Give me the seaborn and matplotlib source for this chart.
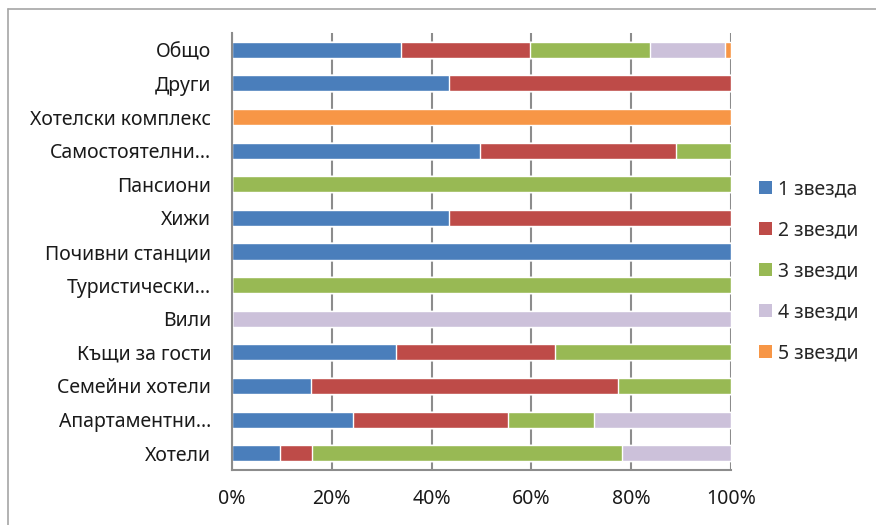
import numpy as np
import pandas as pd
import matplotlib
matplotlib.use("Agg")
import matplotlib.pyplot as plt
from matplotlib.patches import Patch
import seaborn as sns

categories = ["Общо", "Други", "Хотелски комплекс", "Самостоятелни...", "Пансиони",
              "Хижи", "Почивни станции", "Туристически...", "Вили", "Къщи за гости",
              "Семейни хотели", "Апартаментни...", "Хотели"]
series = ["1 звезда", "2 звезди", "3 звезди", "4 звезди", "5 звезди"]

# shares in percent, one list per star class, in category order
star1 = [33.8, 43.5, 0, 49.7, 0, 43.5, 100, 0, 0, 32.9, 15.8, 24.2, 9.6]
star2 = [26.0, 56.5, 0, 39.3, 0, 56.5, 0, 0, 0, 31.8, 61.5, 31.1, 6.4]
star3 = [23.9, 0, 0, 11.0, 100, 0, 0, 100, 0, 35.3, 22.7, 17.3, 62.1]
star4 = [15.0, 0, 0, 0, 0, 0, 0, 0, 100, 0, 0, 27.4, 21.9]
star5 = [1.3, 0, 100, 0, 0, 0, 0, 0, 0, 0, 0, 0, 0]

colors = ["#4a7ebb", "#be4b48", "#98b954", "#ccc1da", "#f79646"]

sns.set_style("white")
plt.rcParams["font.family"] = ["Noto Sans", "DejaVu Sans"]

df = pd.DataFrame({"cat": categories, "s1": star1, "s2": star2, "s3": star3,
                   "s4": star4, "s5": star5})
cols = ["s1", "s2", "s3", "s4", "s5"]
cum = df[cols].cumsum(axis=1)

fig = plt.figure(figsize=(8.76, 5.25), dpi=100)
ax = fig.add_axes([232 / 876, 1 - 470 / 525, (731 - 232) / 876, (470 - 33) / 525])

# vertical grid behind bars
for v in range(0, 101, 20):
    ax.axvline(v, color="#8c8c8c", lw=1.5, zorder=0)

# stacked: draw the largest cumulative first
for i in reversed(range(len(cols))):
    sns.barplot(x=cum[cols[i]], y=df["cat"], color=colors[i], orient="h",
                width=0.48, ax=ax, zorder=2, saturation=1)

ax.set_xlim(0, 100)
ax.set_ylim(12.5, -0.5)
ax.set_xlabel("")
ax.set_ylabel("")
ax.set_xticks(range(0, 101, 20))
ax.set_xticklabels([f"{v}%" for v in range(0, 101, 20)])
ax.set_yticks(range(len(categories)))
ax.set_yticklabels(categories)
ax.set_yticks(np.arange(-0.5, 13, 1), minor=True)
ax.tick_params(axis="y", which="major", length=0, pad=15, labelsize=14, labelcolor="#1a1a1a")
ax.tick_params(axis="y", which="minor", length=8, color="#8c8c8c", width=1.2, direction="out")
ax.tick_params(axis="x", length=6, color="#8c8c8c", width=1.2, direction="out",
               labelsize=14, labelcolor="#1a1a1a", pad=8)

for s in ["top", "right"]:
    ax.spines[s].set_visible(False)
for s in ["left", "bottom"]:
    ax.spines[s].set_color("#8c8c8c")
    ax.spines[s].set_linewidth(1.5)

handles = [Patch(facecolor=c, edgecolor="none") for c in colors]
fig.legend(handles, series, loc="upper left", bbox_to_anchor=(741 / 876, 1 - 162 / 525),
           frameon=False, fontsize=14, handlelength=0.67, handleheight=0.67,
           handletextpad=0.35, labelspacing=1.08)

# chart border (top and left visible)
fig.add_artist(plt.Line2D([8 / 876, 8 / 876], [0, 1 - 9 / 525], color="#a6a6a6", lw=1.2))
fig.add_artist(plt.Line2D([8 / 876, 1], [1 - 9 / 525, 1 - 9 / 525], color="#a6a6a6", lw=1.2))

fig.savefig("out.png", dpi=100)
